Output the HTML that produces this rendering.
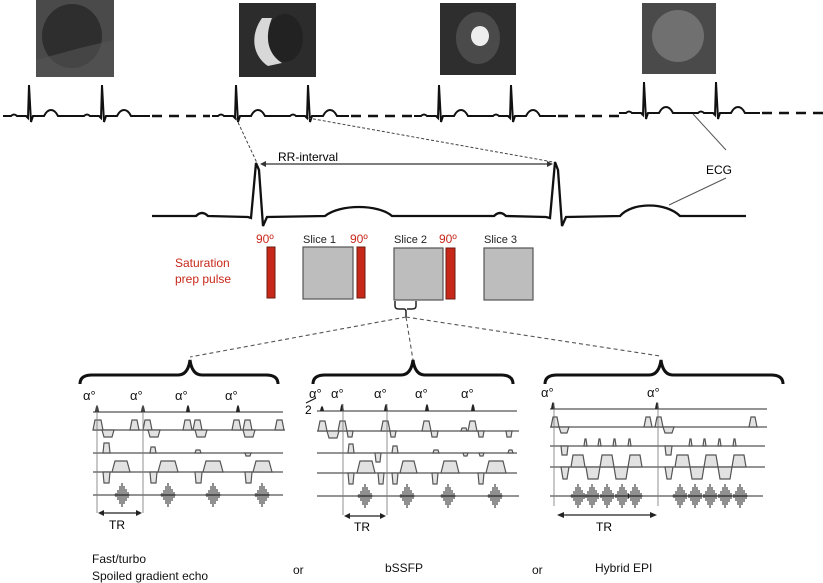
<!DOCTYPE html>
<html><head><meta charset="utf-8"><style>
html,body{margin:0;padding:0;background:#fff}
svg{display:block}
text{font-family:"Liberation Sans",sans-serif}
.g{fill:#e2e2e2;stroke:#555;stroke-width:1.2}
.l{stroke:#555;stroke-width:1.3;fill:none}
.e{stroke:#222;stroke-width:1;fill:none}
</style></head><body>
<svg width="823" height="583" viewBox="0 0 823 583" xmlns="http://www.w3.org/2000/svg">
<defs>
<g id="echo"><path class="e" d="M-8,0h16M-6,-2v4M-4,-5v10M-2,-9v18M0,-12v24M2,-9v18M4,-6v12M6,-3v6"/></g>
</defs>
<!-- images -->
<rect x="36" y="0" width="78" height="77" fill="#4a4a4a"/><ellipse cx="72" cy="36" rx="30" ry="32" fill="#2e2e2e"/><path d="M36,60 L80,48 L114,40 L114,77 L36,77Z" fill="#555" opacity="0.6"/>
<rect x="239" y="3" width="77" height="74" fill="#2c2c2c"/><ellipse cx="285" cy="38" rx="18" ry="24" fill="#222"/><path d="M262,18 C250,35 252,55 268,66 L282,63 C268,54 264,38 272,18 Z" fill="#d8d8d8"/>
<rect x="440" y="3" width="76" height="72" fill="#2e2e2e"/><ellipse cx="478" cy="38" rx="22" ry="26" fill="#4a4a4a"/><ellipse cx="480" cy="36" rx="9" ry="10" fill="#eee"/>
<rect x="642" y="3" width="74" height="71" fill="#4a4a4a"/><ellipse cx="678" cy="36" rx="26" ry="26" fill="#707070"/>
<!-- top ecg -->
<g fill="none" stroke="#111" stroke-width="2">
<path d="M3,116 L11,116 Q14,113 17,116 L26,116 L28,118 L29,85 L31,122 L33,116 L44,116 C48,108 54,108 58,116 L84,116 Q87,113 90,116 L99,116 L101,118 L102,85 L104,122 L106,116 L117,116 C121,108 127,108 131,116 L150,116"/>
<path d="M212,116 L218,116 Q221,113 224,116 L233,116 L235,118 L236,85 L238,122 L240,116 L251,116 C255,108 261,108 265,116 L290,116 Q293,113 296,116 L305,116 L307,118 L308,85 L310,122 L312,116 L323,116 C327,108 333,108 337,116 L349,116"/>
<path d="M414,116 L421,116 Q424,113 427,116 L436,116 L438,118 L439,85 L441,122 L443,116 L454,116 C458,108 464,108 468,116 L493,116 Q496,113 499,116 L508,116 L510,118 L511,85 L513,122 L515,116 L526,116 C530,108 536,108 540,116 L556,116"/>
<path d="M619,113 L626,113 Q629,110 632,113 L641,113 L643,115 L644,82 L646,119 L648,113 L659,113 C663,105 669,105 673,113 L698,113 Q701,110 704,113 L713,113 L715,115 L716,82 L718,119 L720,113 L731,113 C735,105 741,105 745,113 L760,113"/>
<g stroke-dasharray="10,7" stroke-width="2.5"><path d="M152,116H210M351,116H414M558,116H619M762,113H823"/></g>
<path d="M152,216 L196,216 Q202,210 208,216 L248,217 L251,218 L256,163 L259,170 L263,226 L267,217 L325,216 C340,204 378,204 392,216 L448,216 L494,216 Q500,210 506,216 L546,217 L550,218 L555,162 L558,170 L562,226 L566,217 L620,216 C632,202 666,202 680,216 L746,216" stroke-width="2.3"/>
</g>
<path d="M236,118 L257,163 M308,118 L553,162" stroke="#444" stroke-width="1" stroke-dasharray="3,2" fill="none"/>
<line x1="262" y1="164" x2="550" y2="164" stroke="#333" stroke-width="1.2"/>
<path d="M260,164 l6,-3 v6z M553,164 l-6,-3 v6z" fill="#333"/>
<text x="278" y="161" font-size="12">RR-interval</text>
<text x="706" y="174" font-size="12">ECG</text>
<path d="M693,114 L726,150 M726,178 L669,205" stroke="#555" stroke-width="1" fill="none"/>
<!-- saturation -->
<text x="175" y="267" font-size="12" fill="#c8281a">Saturation</text>
<text x="175" y="283" font-size="12" fill="#c8281a">prep pulse</text>
<g font-size="12" fill="#c8281a"><text x="256" y="243">90º</text><text x="350" y="243">90º</text><text x="439" y="243">90º</text></g>
<g font-size="11" fill="#222"><text x="303" y="243">Slice 1</text><text x="394" y="243">Slice 2</text><text x="484" y="243">Slice 3</text></g>
<g fill="#c8281a" stroke="#6a1a10" stroke-width="1"><rect x="267" y="247" width="8" height="51"/><rect x="357" y="247" width="8" height="51"/><rect x="446" y="248" width="9" height="51"/></g>
<g fill="#bdbdbd" stroke="#555" stroke-width="1.2"><rect x="303" y="247" width="50" height="52"/><rect x="394" y="248" width="49" height="52"/><rect x="484" y="248" width="49" height="52"/></g>
<path d="M395,301 v5 q0,3 4,3 h5 q2,0 2,3 v5 M416,301 v5 q0,3 -4,3 h-5" stroke="#222" stroke-width="1.5" fill="none"/>
<path d="M406,317 L190,357 M406,317 L413,360 M406,317 L660,356" stroke="#555" stroke-width="1.1" stroke-dasharray="4,3" fill="none"/>
<!-- braces -->
<g stroke="#111" stroke-width="3" fill="none">
<path d="M80,384 q0,-9 12,-9 h86 q10,0 12,-15 q2,15 12,15 h64 q12,0 12,9"/>
<path d="M313,384 q0,-9 12,-9 h76 q10,0 12,-15 q2,15 12,15 h76 q12,0 12,9"/>
<path d="M545,384 q0,-9 12,-9 h92 q10,0 12,-15 q2,15 12,15 h98 q12,0 12,9"/>
</g>
<!-- panel 1 -->
<g font-size="13" fill="#111"><text x="83" y="400">α°</text><text x="130" y="400">α°</text><text x="175" y="400">α°</text><text x="225" y="400">α°</text></g>
<g class="l"><path d="M93,412H283M93,430H285M93,453H283M93,472H283M93,495H283"/></g>
<g fill="#222"><path d="M95,412 q2,-14 4,0z M141,412 q2,-14 4,0z M186,412 q2,-14 4,0z M236,412 q2,-14 4,0z"/></g>
<g class="g">
<path d="M93,430 l2,-10 h6 l2,10z M130,430 l2,-10 h5 l2,10z M143,430 l2,-10 h5 l2,10z M183,430 l2,-10 h5 l2,10z M193,430 l2,-10 h5 l2,10z M232,430 l2,-10 h5 l2,10z M243,430 l2,-10 h5 l2,10z M275,430 l2,-10 h5 l2,10z"/>
<path d="M102,430 l2,7 h8 l2,-7z M148,430 l2,7 h8 l2,-7z M195,430 l2,7 h8 l2,-7z M243,430 l2,7 h8 l2,-7z"/>
<path d="M103,453 l1,-10 h5 l1,10z M150,453 l1,-6 h4 l1,6z M195,453 l1,-3 h4 l1,3z M245,453 l1,3 h4 l1,-3z"/>
<path d="M103,472 l1,11 h5 l1,-11z M150,472 l1,11 h5 l1,-11z M195,472 l1,11 h5 l1,-11z M245,472 l1,11 h5 l1,-11z"/>
<path d="M112,472 l3,-11 h12 l3,11z M158,472 l3,-11 h14 l3,11z M203,472 l3,-11 h14 l3,11z M253,472 l3,-11 h13 l3,11z"/>
</g>
<use href="#echo" x="122" y="495"/><use href="#echo" x="168" y="495"/><use href="#echo" x="213" y="495"/><use href="#echo" x="262" y="495"/>
<path d="M97,405V513M143,405V513" stroke="#777" stroke-width="0.8"/>
<line x1="101" y1="513" x2="139" y2="513" stroke="#222" stroke-width="1.3"/><path d="M98,513 l6,-3 v6z M142,513 l-6,-3 v6z" fill="#222"/>
<text x="109" y="529" font-size="12">TR</text>
<!-- panel 2 -->
<g font-size="13" fill="#111"><text x="309" y="398">α°</text><text x="331" y="398">α°</text><text x="374" y="398">α°</text><text x="415" y="398">α°</text><text x="461" y="398">α°</text></g>
<text x="305" y="414" font-size="12">2</text><path d="M306,403 L316,398" stroke="#111" stroke-width="1"/>
<g class="l"><path d="M317,411H517M317,431H519M317,453H517M317,473H517M317,496H519"/></g>
<g fill="#222"><path d="M320,411 q2,-10 4,0z M340,411 q2,-14 4,0z M384,411 q2,-14 4,0z M425,411 q2,-14 4,0z M471,411 q2,-14 4,0z"/></g>
<g class="g">
<path d="M318,431 l2,-10 h5 l2,10z M338,431 l2,-10 h5 l2,10z M381,431 l2,-10 h5 l2,10z M422,431 l2,-10 h5 l2,10z M468,431 l2,-10 h5 l2,10z M461,431 l1,-3 h4 l1,3z"/>
<path d="M327,431 l2,7 h8 l2,-7z M347,431 l1,6 h4 l1,-6z M390,431 l1,6 h4 l1,-6z M431,431 l1,6 h5 l1,-6z M478,431 l1,6 h4 l1,-6z M506,431 l1,6 h4 l1,-6z"/>
<path d="M348,453 l1,-9 h4 l1,9z M392,453 l1,-7 h4 l1,7z M433,453 l1,-3 h4 l1,3z M508,453 l1,-3 h3 l1,3z M375,453 l1,9 h4 l1,-9z M463,453 l1,3 h3 l1,-3z M479,453 l1,3 h3 l1,-3z"/>
<path d="M348,473 l1,11 h4 l1,-11z M378,473 l1,11 h4 l1,-11z M392,473 l1,11 h4 l1,-11z M432,473 l1,11 h4 l1,-11z M478,473 l1,11 h4 l1,-11z"/>
<path d="M357,473 l3,-12 h12 l3,12z M400,473 l3,-12 h11 l3,12z M441,473 l3,-12 h12 l3,12z M486,473 l3,-12 h14 l3,12z"/>
</g>
<use href="#echo" x="365" y="496"/><use href="#echo" x="407" y="496"/><use href="#echo" x="448" y="496"/><use href="#echo" x="495" y="496"/>
<path d="M343,404V515M387,404V515" stroke="#777" stroke-width="0.8"/>
<line x1="347" y1="516" x2="383" y2="516" stroke="#222" stroke-width="1.3"/><path d="M344,516 l6,-3 v6z M386,516 l-6,-3 v6z" fill="#222"/>
<text x="354" y="531" font-size="12">TR</text>
<!-- panel 3 -->
<g font-size="13" fill="#111"><text x="541" y="397">α°</text><text x="647" y="397">α°</text></g>
<g class="l"><path d="M550,409H767M550,427H767M550,446H765M550,467H765M550,496H763"/></g>
<g fill="#222"><path d="M551,409 q2,-14 4,0z M655,409 q2,-14 4,0z"/></g>
<g class="g">
<path d="M551,427 l2,-10 h4 l2,10z M644,427 l2,-10 h4 l2,10z M655,427 l2,-10 h4 l2,10z M749,427 l2,-10 h4 l2,10z"/>
<path d="M559,427 l2,6 h6 l2,-6z M663,427 l2,6 h7 l2,-6z"/>
<path d="M561,446 l1,9 h5 l1,-9z M665,446 l1,9 h5 l1,-9z"/>
<path d="M584,446 l1,-7 h1 l1,7z M598,446 l1,-7 h1 l1,7z M613,446 l1,-7 h1 l1,7z M628,446 l1,-7 h1 l1,7z M689,446 l1,-7 h1 l1,7z M703,446 l1,-7 h1 l1,7z M718,446 l1,-7 h1 l1,7z M733,446 l1,-7 h1 l1,7z"/>
<path d="M561,467 l2,12 h4 l2,-12z M586,467 l2,12 h10 l2,-12z M614,467 l2,12 h10 l2,-12z M665,467 l2,12 h4 l2,-12z M690,467 l2,12 h10 l2,-12z M718,467 l2,12 h10 l2,-12z"/>
<path d="M571,467 l2,-12 h10 l2,12z M600,467 l2,-12 h10 l2,12z M628,467 l2,-12 h10 l2,12z M675,467 l2,-12 h11 l2,12z M704,467 l2,-12 h10 l2,12z M732,467 l2,-12 h10 l2,12z"/>
</g>
<use href="#echo" x="578" y="496"/><use href="#echo" x="592" y="496"/><use href="#echo" x="607" y="496"/><use href="#echo" x="622" y="496"/><use href="#echo" x="635" y="496"/>
<use href="#echo" x="680" y="496"/><use href="#echo" x="695" y="496"/><use href="#echo" x="710" y="496"/><use href="#echo" x="725" y="496"/><use href="#echo" x="740" y="496"/>
<path d="M554,403V506M658,403V506" stroke="#777" stroke-width="0.8"/>
<line x1="560" y1="515" x2="654" y2="515" stroke="#222" stroke-width="1.3"/><path d="M557,515 l7,-3 v6z M657,515 l-7,-3 v6z" fill="#222"/>
<text x="596" y="531" font-size="12">TR</text>
<!-- bottom labels -->
<g font-size="12" fill="#111">
<text x="92" y="563">Fast/turbo</text><text x="92" y="580">Spoiled gradient echo</text>
<text x="293" y="574">or</text><text x="385" y="572">bSSFP</text><text x="532" y="574">or</text><text x="595" y="572">Hybrid EPI</text>
</g>
</svg>
</body></html>
